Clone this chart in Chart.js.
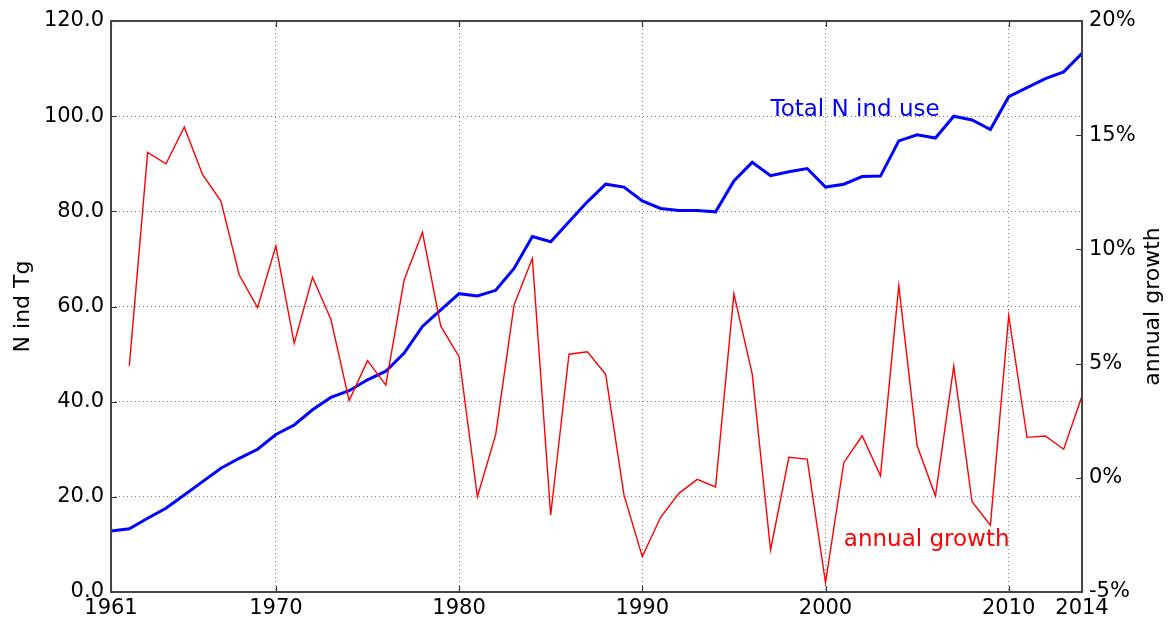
<!DOCTYPE html>
<html lang="en">
<head>
<meta charset="UTF-8">
<script src="https://cdn.jsdelivr.net/npm/chart.js"></script>
<title>Total N ind use</title>
<style>
  html, body { margin: 0; padding: 0; background: #fff; }
  #box { width: 1168px; height: 621px; }
</style>
</head>
<body>
<div id="box"><canvas id="grafico"></canvas></div>
<script>
// data
const years = [1961,1962,1963,1964,1965,1966,1967,1968,1969,1970,
  1971,1972,1973,1974,1975,1976,1977,1978,1979,1980,
  1981,1982,1983,1984,1985,1986,1987,1988,1989,1990,
  1991,1992,1993,1994,1995,1996,1997,1998,1999,2000,
  2001,2002,2003,2004,2005,2006,2007,2008,2009,2010,
  2011,2012,2013,2014]
const totalUse = [12.8,13.3,15.5,17.6,20.4,23.2,26.0,28.1,30.0,33.1,
  35.1,38.3,40.9,42.3,44.6,46.4,50.2,55.8,59.3,62.7,
  62.2,63.4,68.0,74.7,73.6,77.8,82.0,85.7,85.1,82.2,
  80.6,80.2,80.2,79.9,86.4,90.3,87.5,88.3,89.0,85.1,
  85.7,87.3,87.4,94.8,96.1,95.4,100.0,99.2,97.2,104.1,
  106.0,107.9,109.3,113.2]
// growth in %, starts 1962
const growthYears = years.slice(1)
const growth = [4.9,14.25,13.75,15.36,13.27,12.12,8.88,7.45,10.15,
  5.89,8.78,6.94,3.38,5.13,4.06,8.66,10.75,6.64,5.3,
  -0.83,1.9,7.57,9.61,-1.63,5.41,5.52,4.53,-0.75,-3.45,
  -1.73,-0.68,-0.07,-0.40,8.05,4.54,-3.16,0.90,0.82,-4.59,
  0.66,1.84,0.09,8.41,1.41,-0.80,4.89,-1.05,-2.07,7.10,
  1.77,1.83,1.25,3.58]

const xTicks = [1961,1970,1980,1990,2000,2010,2014]
const leftTicks = [0,20,40,60,80,100,120]
const rightTicks = [-5,0,5,10,15,20]

const fonte = 'DejaVu Sans'

const extras = {
  id: 'extras',
  afterDatasetsDraw(chart) {
    const c = chart.ctx
    const a = chart.chartArea
    const sx = chart.scales.x, sy = chart.scales.y, sy1 = chart.scales.y1
    c.save()
    // inward ticks
    c.strokeStyle = '#333'
    c.lineWidth = 1.2
    c.beginPath()
    leftTicks.forEach(v => {
      const p = Math.round(sy.getPixelForValue(v)) + 0.5
      c.moveTo(a.left, p); c.lineTo(a.left + 6, p)
    })
    rightTicks.forEach(v => {
      const p = Math.round(sy1.getPixelForValue(v)) + 0.5
      c.moveTo(a.right, p); c.lineTo(a.right - 6, p)
    })
    xTicks.forEach(v => {
      const p = Math.round(sx.getPixelForValue(v)) + 0.5
      c.moveTo(p, a.bottom); c.lineTo(p, a.bottom - 6)
      c.moveTo(p, a.top); c.lineTo(p, a.top + 6)
    })
    c.stroke()
    // frame
    c.strokeStyle = '#444'
    c.lineWidth = 2
    c.strokeRect(a.left, a.top, a.right - a.left, a.bottom - a.top)

    // annotations
    c.font = '23px "' + fonte + '"'
    c.textAlign = 'left'
    c.textBaseline = 'alphabetic'
    c.fillStyle = '#0000ff'
    c.fillText('Total N ind use', sx.getPixelForValue(1997), sy.getPixelForValue(100))
    c.fillStyle = '#ff0000'
    c.fillText('annual growth', sx.getPixelForValue(2001), sy1.getPixelForValue(-3))

    // axis titles, both read bottom to top
    c.font = '22px "' + fonte + '"'
    c.fillStyle = '#000'
    c.textAlign = 'center'
    c.textBaseline = 'middle'
    const meio = (a.top + a.bottom) / 2
    c.translate(23, meio)
    c.rotate(-Math.PI / 2)
    c.fillText('N ind Tg', 0, 0)
    c.setTransform(1, 0, 0, 1, 0, 0)
    c.translate(1153, meio)
    c.rotate(-Math.PI / 2)
    c.fillText('annual growth', 0, 0)
    c.restore()
  }
}

const grade = { color: 'rgba(0,0,0,0.5)', lineWidth: 1, drawTicks: false }
const tickFont = { family: fonte, size: 21 }

new Chart(document.getElementById('grafico'), {
  type: 'line',
  data: {
    datasets: [
      {
        label: 'Total N ind use',
        data: years.map((y, i) => ({ x: y, y: totalUse[i] })),
        borderColor: '#0000ff',
        borderWidth: 3,
        pointRadius: 0,
        yAxisID: 'y',
        order: 2
      },
      {
        label: 'annual growth',
        data: growthYears.map((y, i) => ({ x: y, y: growth[i] })),
        borderColor: '#ff0000',
        borderWidth: 1.4,
        pointRadius: 0,
        yAxisID: 'y1',
        order: 1
      }
    ]
  },
  options: {
    responsive: true,
    maintainAspectRatio: false,
    animation: false,
    layout: { padding: { top: 21, left: 0, right: 0, bottom: 0 } },
    plugins: { legend: { display: false }, tooltip: { enabled: false } },
    scales: {
      x: {
        type: 'linear',
        min: 1961,
        max: 2014,
        afterBuildTicks: s => { s.ticks = xTicks.map(v => ({ value: v })) },
        afterFit: s => { s.height = 29 },
        ticks: { font: tickFont, color: '#000', padding: 4, maxRotation: 0, callback: v => String(v) },
        grid: grade,
        border: { display: false, dash: [1, 3] }
      },
      y: {
        position: 'left',
        min: 0,
        max: 120,
        afterBuildTicks: s => { s.ticks = leftTicks.map(v => ({ value: v })) },
        afterFit: s => { s.width = 111 },
        ticks: { font: tickFont, color: '#000', padding: 7, callback: v => v.toFixed(1) },
        grid: grade,
        border: { display: false, dash: [1, 3] }
      },
      y1: {
        position: 'right',
        min: -5,
        max: 20,
        afterBuildTicks: s => { s.ticks = rightTicks.map(v => ({ value: v })) },
        afterFit: s => { s.width = 86 },
        ticks: { font: tickFont, color: '#000', padding: 7, callback: v => v + '%' },
        grid: { display: false, drawTicks: false },
        border: { display: false }
      }
    }
  },
  plugins: [extras]
})
</script>
</body>
</html>
